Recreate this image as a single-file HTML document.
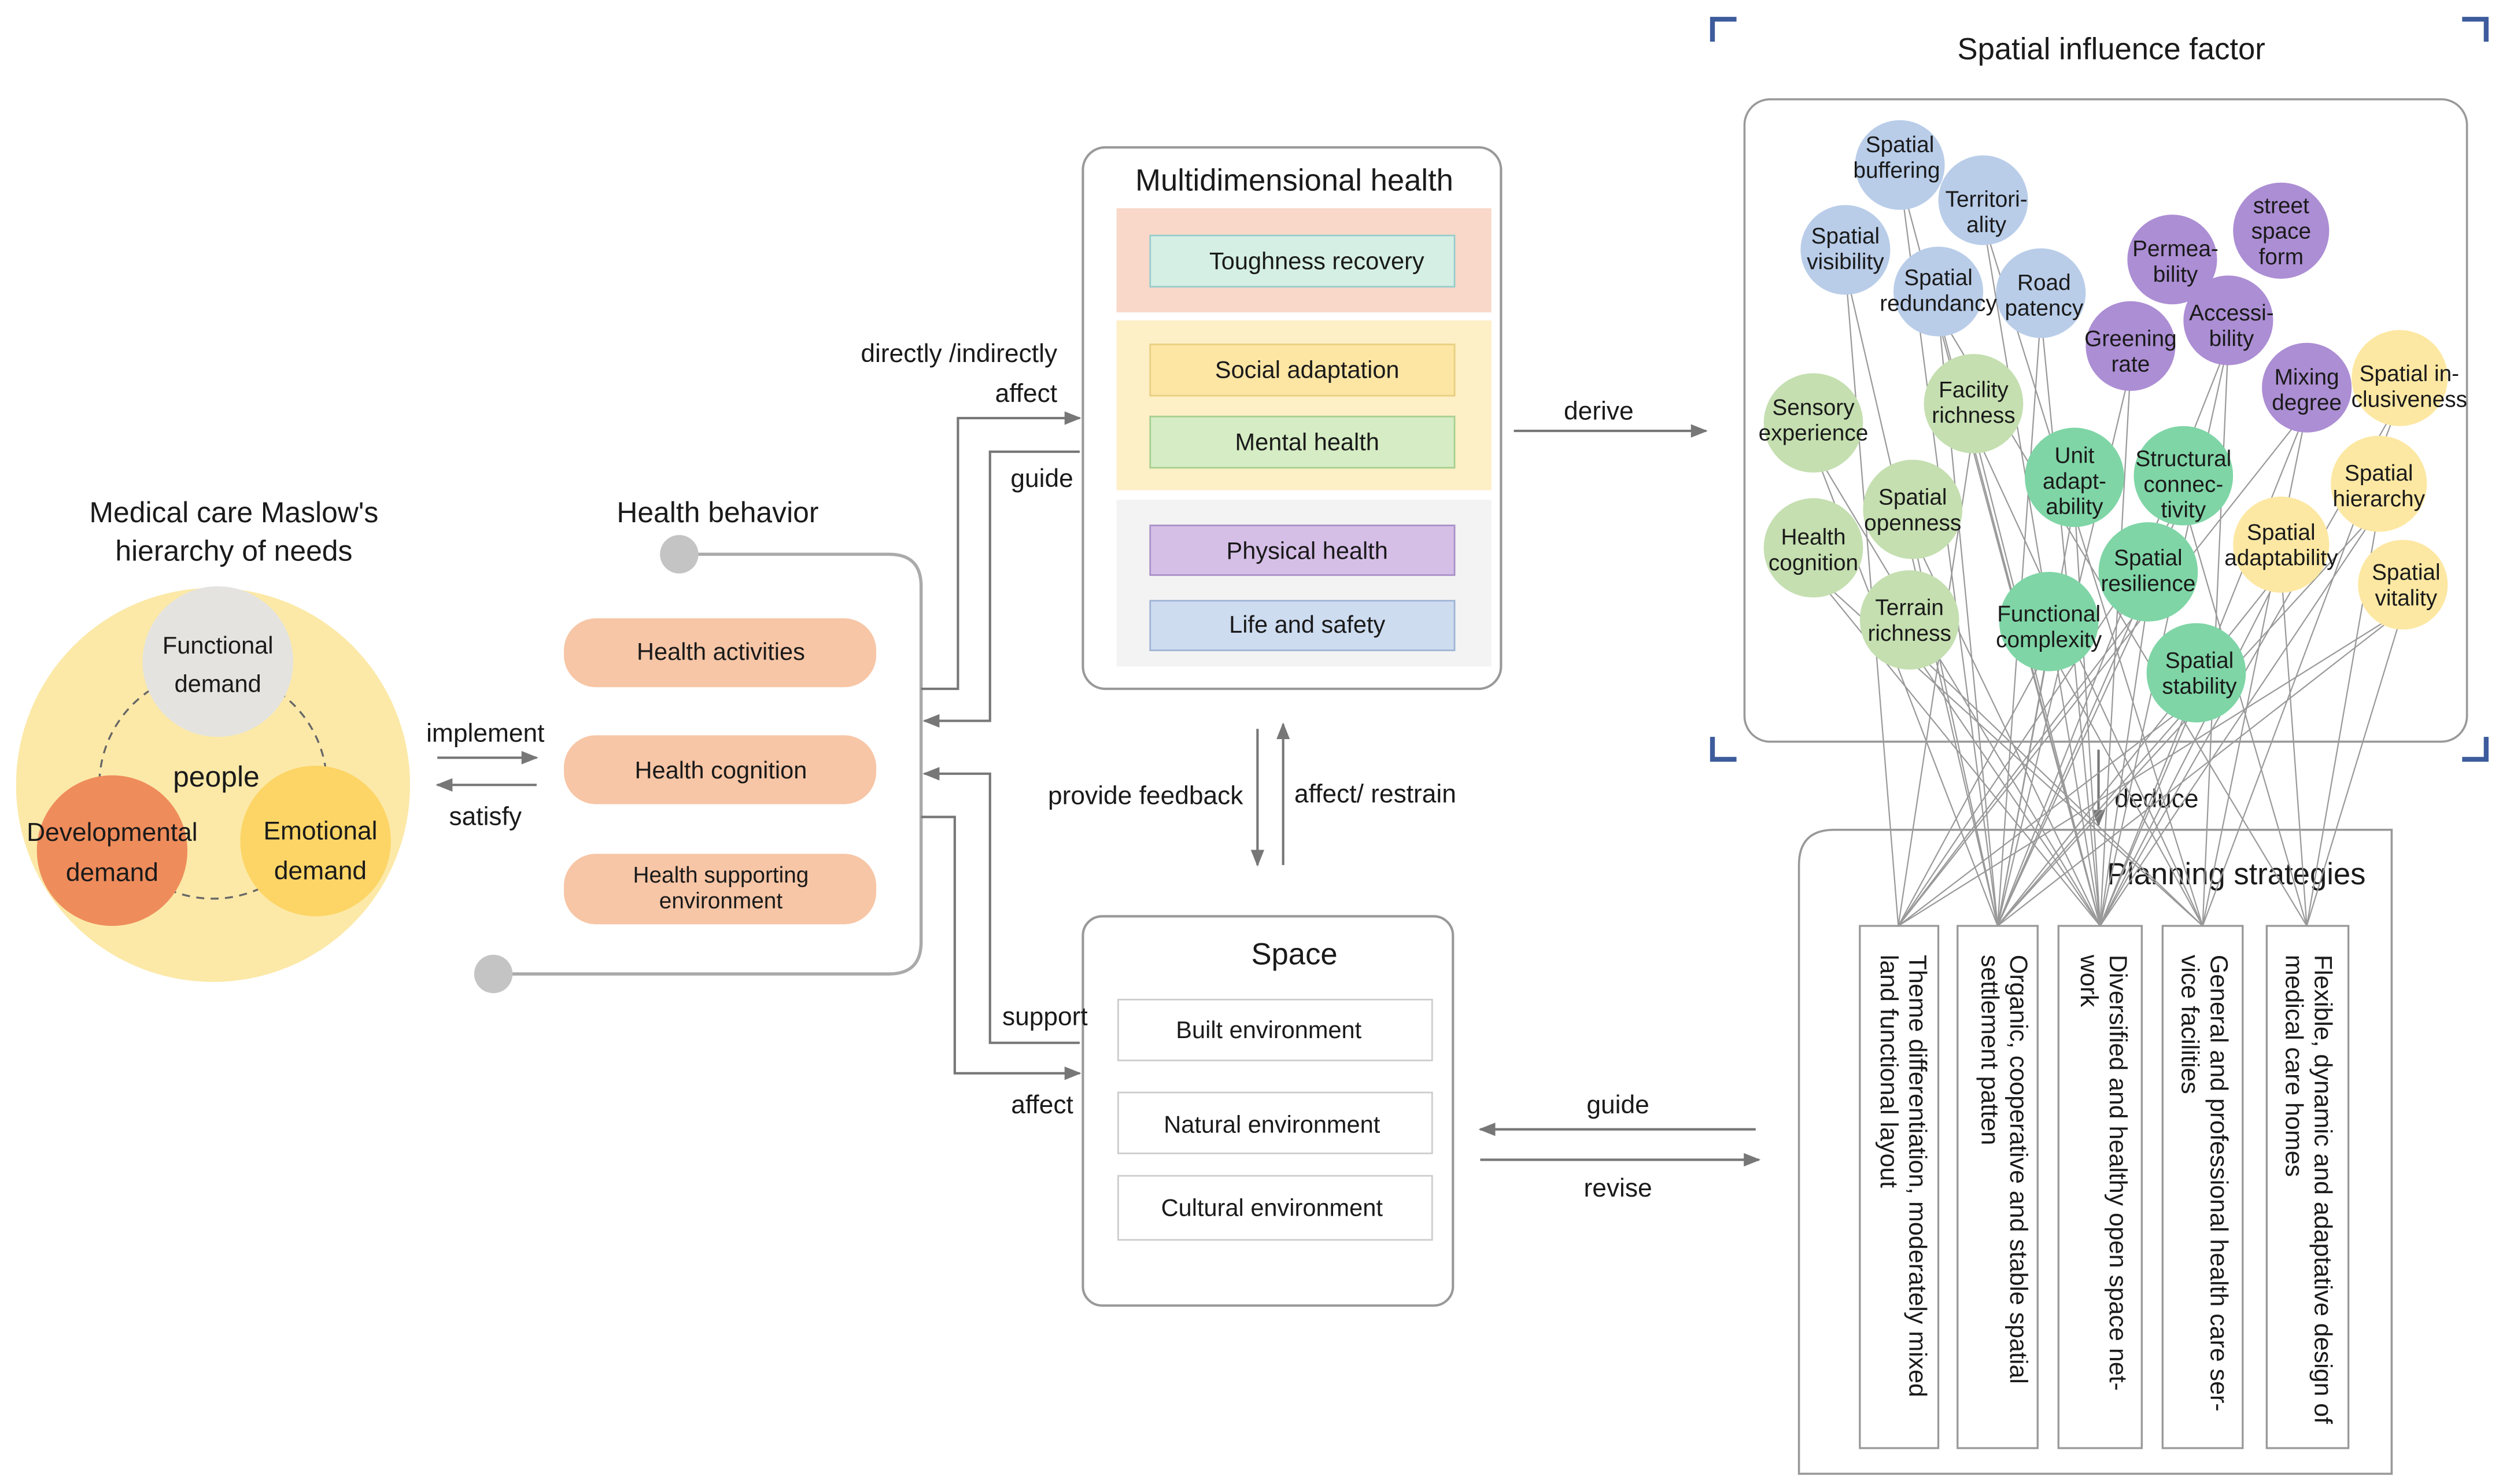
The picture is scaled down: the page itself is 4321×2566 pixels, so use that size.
<!DOCTYPE html>
<html><head><meta charset="utf-8"><style>
html,body{margin:0;padding:0;background:#fff;}
svg{display:block;}
text{font-family:"Liberation Sans","DejaVu Sans",sans-serif;fill:#1a1a1a;}
</style></head><body>
<svg width="4321" height="2566" viewBox="0 0 1560 926.4" preserveAspectRatio="none" xmlns="http://www.w3.org/2000/svg">
<defs>
<marker id="ah" viewBox="0 0 10 10" refX="9" refY="5" markerWidth="7" markerHeight="7" orient="auto-start-reverse"><path d="M0,1 L10,5 L0,9 z" fill="#777"/></marker>
</defs>
<rect width="1560" height="926.4" fill="#fff"/>

<!-- Maslow -->
<text x="146" y="326" font-size="18" text-anchor="middle">Medical care Maslow's</text>
<text x="146" y="350" font-size="18" text-anchor="middle">hierarchy of needs</text>
<circle cx="133" cy="490" r="123" fill="#fce9a8"/>
<circle cx="133" cy="490" r="71" fill="none" stroke="#666" stroke-width="1.2" stroke-dasharray="5,4"/>
<circle cx="136" cy="413" r="47" fill="#e4e3df"/>
<circle cx="70" cy="531" r="47" fill="#ef8c5b"/>
<circle cx="197" cy="525" r="47" fill="#fdd566"/>
<text x="136" y="408" font-size="15" text-anchor="middle">Functional</text>
<text x="136" y="432" font-size="15" text-anchor="middle">demand</text>
<text x="135" y="491" font-size="18" text-anchor="middle">people</text>
<text x="70" y="525" font-size="16" text-anchor="middle">Developmental</text>
<text x="70" y="550" font-size="16" text-anchor="middle">demand</text>
<text x="200" y="524" font-size="16" text-anchor="middle">Emotional</text>
<text x="200" y="549" font-size="16" text-anchor="middle">demand</text>

<line x1="273" y1="473" x2="335" y2="473" stroke="#777" stroke-width="1.5" marker-end="url(#ah)"/>
<line x1="335" y1="490" x2="273" y2="490" stroke="#777" stroke-width="1.5" marker-end="url(#ah)"/>
<text x="303" y="463" font-size="16" text-anchor="middle">implement</text>
<text x="303" y="515" font-size="16" text-anchor="middle">satisfy</text>

<!-- Health behavior -->
<text x="448" y="326" font-size="18" text-anchor="middle">Health behavior</text>
<path d="M424,346 H555 Q575,346 575,366 V588 Q575,608 555,608 H308" fill="none" stroke="#aaa" stroke-width="2"/>
<circle cx="424" cy="346" r="12" fill="#c4c4c4"/>
<circle cx="308" cy="608" r="12" fill="#c4c4c4"/>
<rect x="352" y="386" width="195" height="43" rx="20" fill="#f7c6a6"/>
<rect x="352" y="459" width="195" height="43" rx="20" fill="#f7c6a6"/>
<rect x="352" y="533" width="195" height="44" rx="20" fill="#f7c6a6"/>
<text x="450" y="412" font-size="15" text-anchor="middle">Health activities</text>
<text x="450" y="486" font-size="15" text-anchor="middle">Health cognition</text>
<text x="450" y="551" font-size="14" text-anchor="middle">Health supporting</text>
<text x="450" y="567" font-size="14" text-anchor="middle">environment</text>

<!-- connectors left-middle -->
<path d="M575,430 H598 V261 H674" fill="none" stroke="#777" stroke-width="1.5" marker-end="url(#ah)"/>
<path d="M674,282 H618 V450 H577" fill="none" stroke="#777" stroke-width="1.5" marker-end="url(#ah)"/>
<path d="M674,651 H618 V483 H577" fill="none" stroke="#777" stroke-width="1.5" marker-end="url(#ah)"/>
<path d="M575,510 H596 V670 H674" fill="none" stroke="#777" stroke-width="1.5" marker-end="url(#ah)"/>
<text x="660" y="226" font-size="16" text-anchor="end">directly /indirectly</text>
<text x="660" y="251" font-size="16" text-anchor="end">affect</text>
<text x="670" y="304" font-size="16" text-anchor="end">guide</text>
<text x="670" y="695" font-size="16" text-anchor="end">affect</text>

<!-- Multidimensional health -->
<rect x="676" y="92" width="261" height="338" rx="14" fill="#fff" stroke="#999" stroke-width="1.5"/>
<text x="808" y="119" font-size="19" text-anchor="middle">Multidimensional health</text>
<rect x="697" y="130" width="234" height="65" fill="#f9d8c9"/>
<rect x="697" y="200" width="234" height="106" fill="#fdefc6"/>
<rect x="697" y="312" width="234" height="104" fill="#f3f3f3"/>
<rect x="718" y="147" width="190" height="32" fill="#d5efe4" stroke="#9cc" stroke-width="1"/>
<rect x="718" y="215" width="190" height="32" fill="#fde5a4" stroke="#e8cf80" stroke-width="1"/>
<rect x="718" y="260" width="190" height="32" fill="#d5ecc4" stroke="#a8cf90" stroke-width="1"/>
<rect x="718" y="328" width="190" height="31" fill="#d6bfe7" stroke="#a890c8" stroke-width="1"/>
<rect x="718" y="375" width="190" height="31" fill="#cedcf0" stroke="#9fb4d4" stroke-width="1"/>
<text x="822" y="168" font-size="15" text-anchor="middle">Toughness recovery</text>
<text x="816" y="236" font-size="15" text-anchor="middle">Social adaptation</text>
<text x="816" y="281" font-size="15" text-anchor="middle">Mental health</text>
<text x="816" y="349" font-size="15" text-anchor="middle">Physical health</text>
<text x="816" y="395" font-size="15" text-anchor="middle">Life and safety</text>

<line x1="785" y1="455" x2="785" y2="540" stroke="#777" stroke-width="1.5" marker-end="url(#ah)"/>
<line x1="801" y1="540" x2="801" y2="452" stroke="#777" stroke-width="1.5" marker-end="url(#ah)"/>
<text x="776" y="502" font-size="16" text-anchor="end">provide feedback</text>
<text x="808" y="501" font-size="16">affect/ restrain</text>

<!-- Space -->
<rect x="676" y="572" width="231" height="243" rx="12" fill="#fff" stroke="#999" stroke-width="1.5"/>
<text x="679" y="640" font-size="16" text-anchor="end">support</text>
<text x="808" y="602" font-size="19" text-anchor="middle">Space</text>
<rect x="698" y="624" width="196" height="38" fill="#fff" stroke="#ccc"/>
<rect x="698" y="682" width="196" height="38" fill="#fff" stroke="#ccc"/>
<rect x="698" y="734" width="196" height="40" fill="#fff" stroke="#ccc"/>
<text x="792" y="648" font-size="15" text-anchor="middle">Built environment</text>
<text x="794" y="707" font-size="15" text-anchor="middle">Natural environment</text>
<text x="794" y="759" font-size="15" text-anchor="middle">Cultural environment</text>

<line x1="945" y1="269" x2="1065" y2="269" stroke="#777" stroke-width="1.5" marker-end="url(#ah)"/>
<text x="998" y="262" font-size="16" text-anchor="middle">derive</text>
<line x1="1096" y1="705" x2="924" y2="705" stroke="#777" stroke-width="1.5" marker-end="url(#ah)"/>
<line x1="924" y1="724" x2="1098" y2="724" stroke="#777" stroke-width="1.5" marker-end="url(#ah)"/>
<text x="1010" y="695" font-size="16" text-anchor="middle">guide</text>
<text x="1010" y="747" font-size="16" text-anchor="middle">revise</text>

<!-- Spatial influence factor -->
<text x="1318" y="37" font-size="19" text-anchor="middle">Spatial influence factor</text>
<g stroke="#3d5c9c" stroke-width="3" fill="none">
<path d="M1069,26 V12 H1084"/><path d="M1537,12 H1552 V26"/>
<path d="M1069,460 V474 H1084"/><path d="M1537,474 H1552 V460"/>
</g>
<rect x="1089" y="62" width="451" height="401" rx="16" fill="#fff" stroke="#999" stroke-width="1.3"/>

<!-- Planning -->
<line x1="1310" y1="468" x2="1310" y2="515" stroke="#777" stroke-width="1.5" marker-end="url(#ah)"/>
<text x="1320" y="504" font-size="16">deduce</text>
<path d="M1123,920 V540 Q1123,518 1145,518 H1493 V920 Z" fill="#fff" stroke="#999" stroke-width="1.3"/>
<text x="1396" y="552" font-size="19" text-anchor="middle">Planning strategies</text>
<g fill="#fff" stroke="#999" stroke-width="1.2">
<rect x="1161" y="578" width="49" height="326"/>
<rect x="1222" y="578" width="50" height="326"/>
<rect x="1285" y="578" width="52" height="326"/>
<rect x="1350" y="578" width="50" height="326"/>
<rect x="1415" y="578" width="51" height="326"/>
</g>
<g font-size="15.5">
<text transform="translate(1192,596) rotate(90)"><tspan x="0" y="0">Theme differentiation, moderately mixed</tspan><tspan x="0" y="18">land functional layout</tspan></text>
<text transform="translate(1255,596) rotate(90)"><tspan x="0" y="0">Organic, cooperative and stable spatial</tspan><tspan x="0" y="18">settlement patten</tspan></text>
<text transform="translate(1317,596) rotate(90)"><tspan x="0" y="0">Diversified and healthy open space net-</tspan><tspan x="0" y="18">work</tspan></text>
<text transform="translate(1380,596) rotate(90)"><tspan x="0" y="0">General and professional health care ser-</tspan><tspan x="0" y="18">vice facilities</tspan></text>
<text transform="translate(1445,596) rotate(90)"><tspan x="0" y="0">Flexible, dynamic and adaptative design of</tspan><tspan x="0" y="18">medical care homes</tspan></text>
</g>

<!-- network lines -->
<g stroke="#999" stroke-width="0.8" fill="none">
<path d="M1186,110 L1247,578 M1186,110 L1311,578"/>
<path d="M1238,138 L1311,578 M1238,138 L1375,578"/>
<path d="M1152,168 L1247,578 M1152,168 L1185,578"/>
<path d="M1210,195 L1311,578 M1210,195 L1440,578 M1210,195 L1247,578"/>
<path d="M1274,196 L1247,578 M1274,196 L1311,578"/>
<path d="M1330,230 L1247,578 M1330,230 L1311,578"/>
<path d="M1391,214 L1311,578 M1391,214 L1247,578 M1391,214 L1375,578"/>
<path d="M1440,256 L1185,578 M1440,256 L1311,578 M1440,256 L1375,578"/>
<path d="M1498,250 L1375,578 M1498,250 L1311,578"/>
<path d="M1132,280 L1247,578 M1132,280 L1311,578"/>
<path d="M1232,268 L1311,578 M1232,268 L1375,578 M1232,268 L1185,578"/>
<path d="M1295,314 L1247,578 M1295,314 L1311,578"/>
<path d="M1363,313 L1185,578 M1363,313 L1247,578 M1363,313 L1440,578"/>
<path d="M1485,318 L1311,578 M1485,318 L1440,578 M1485,318 L1247,578"/>
<path d="M1194,334 L1311,578 M1194,334 L1247,578"/>
<path d="M1132,358 L1311,578 M1132,358 L1375,578"/>
<path d="M1424,356 L1440,578 M1424,356 L1247,578 M1424,356 L1311,578"/>
<path d="M1341,373 L1247,578 M1341,373 L1311,578 M1341,373 L1185,578"/>
<path d="M1500,381 L1185,578 M1500,381 L1247,578 M1500,381 L1440,578"/>
<path d="M1192,403 L1311,578 M1192,403 L1375,578"/>
<path d="M1279,404 L1247,578 M1279,404 L1375,578 M1279,404 L1185,578"/>
<path d="M1371,436 L1185,578 M1371,436 L1247,578 M1371,436 L1311,578"/>
</g>

<!-- circles -->
<g>
<circle cx="1186" cy="103" r="28" fill="#b9cde9"/>
<circle cx="1238" cy="125" r="28" fill="#b9cde9"/>
<circle cx="1152" cy="156" r="28" fill="#b9cde9"/>
<circle cx="1210" cy="182" r="28" fill="#b9cde9"/>
<circle cx="1274" cy="183" r="28" fill="#b9cde9"/>
<circle cx="1356" cy="162" r="28" fill="#ac8ed4"/>
<circle cx="1424" cy="144" r="30" fill="#ac8ed4"/>
<circle cx="1391" cy="200" r="28" fill="#ac8ed4"/>
<circle cx="1330" cy="216" r="28" fill="#ac8ed4"/>
<circle cx="1440" cy="242" r="28" fill="#ac8ed4"/>
<circle cx="1498" cy="236" r="30" fill="#fde8a3"/>
<circle cx="1132" cy="264" r="31" fill="#c5dfb0"/>
<circle cx="1232" cy="252" r="31" fill="#c5dfb0"/>
<circle cx="1295" cy="298" r="31" fill="#7fd5a6"/>
<circle cx="1363" cy="297" r="31" fill="#7fd5a6"/>
<circle cx="1485" cy="302" r="30" fill="#fde8a3"/>
<circle cx="1194" cy="318" r="31" fill="#c5dfb0"/>
<circle cx="1132" cy="342" r="31" fill="#c5dfb0"/>
<circle cx="1424" cy="340" r="30" fill="#fde8a3"/>
<circle cx="1341" cy="357" r="31" fill="#7fd5a6"/>
<circle cx="1500" cy="365" r="28" fill="#fde8a3"/>
<circle cx="1192" cy="387" r="31" fill="#c5dfb0"/>
<circle cx="1279" cy="388" r="31" fill="#7fd5a6"/>
<circle cx="1371" cy="420" r="31" fill="#7fd5a6"/>
</g>
<g font-size="14" text-anchor="middle">
<text x="1186" y="95">Spatial</text><text x="1184" y="111">buffering</text>
<text x="1240" y="129">Territori-</text><text x="1240" y="145">ality</text>
<text x="1152" y="152">Spatial</text><text x="1152" y="168">visibility</text>
<text x="1210" y="178">Spatial</text><text x="1210" y="194">redundancy</text>
<text x="1276" y="181">Road</text><text x="1276" y="197">patency</text>
<text x="1358" y="160">Permea-</text><text x="1358" y="176">bility</text>
<text x="1424" y="133">street</text><text x="1424" y="149">space</text><text x="1424" y="165">form</text>
<text x="1393" y="200">Accessi-</text><text x="1393" y="216">bility</text>
<text x="1330" y="216">Greening</text><text x="1330" y="232">rate</text>
<text x="1440" y="240">Mixing</text><text x="1440" y="256">degree</text>
<text x="1504" y="238">Spatial in-</text><text x="1504" y="254">clusiveness</text>
<text x="1132" y="259">Sensory</text><text x="1132" y="275">experience</text>
<text x="1232" y="248">Facility</text><text x="1232" y="264">richness</text>
<text x="1295" y="289">Unit</text><text x="1295" y="305">adapt-</text><text x="1295" y="321">ability</text>
<text x="1363" y="291">Structural</text><text x="1363" y="307">connec-</text><text x="1363" y="323">tivity</text>
<text x="1485" y="300">Spatial</text><text x="1485" y="316">hierarchy</text>
<text x="1194" y="315">Spatial</text><text x="1194" y="331">openness</text>
<text x="1132" y="340">Health</text><text x="1132" y="356">cognition</text>
<text x="1424" y="337">Spatial</text><text x="1424" y="353">adaptability</text>
<text x="1341" y="353">Spatial</text><text x="1341" y="369">resilience</text>
<text x="1502" y="362">Spatial</text><text x="1502" y="378">vitality</text>
<text x="1192" y="384">Terrain</text><text x="1192" y="400">richness</text>
<text x="1279" y="388">Functional</text><text x="1279" y="404">complexity</text>
<text x="1373" y="417">Spatial</text><text x="1373" y="433">stability</text>
</g>
</svg>
</body></html>
